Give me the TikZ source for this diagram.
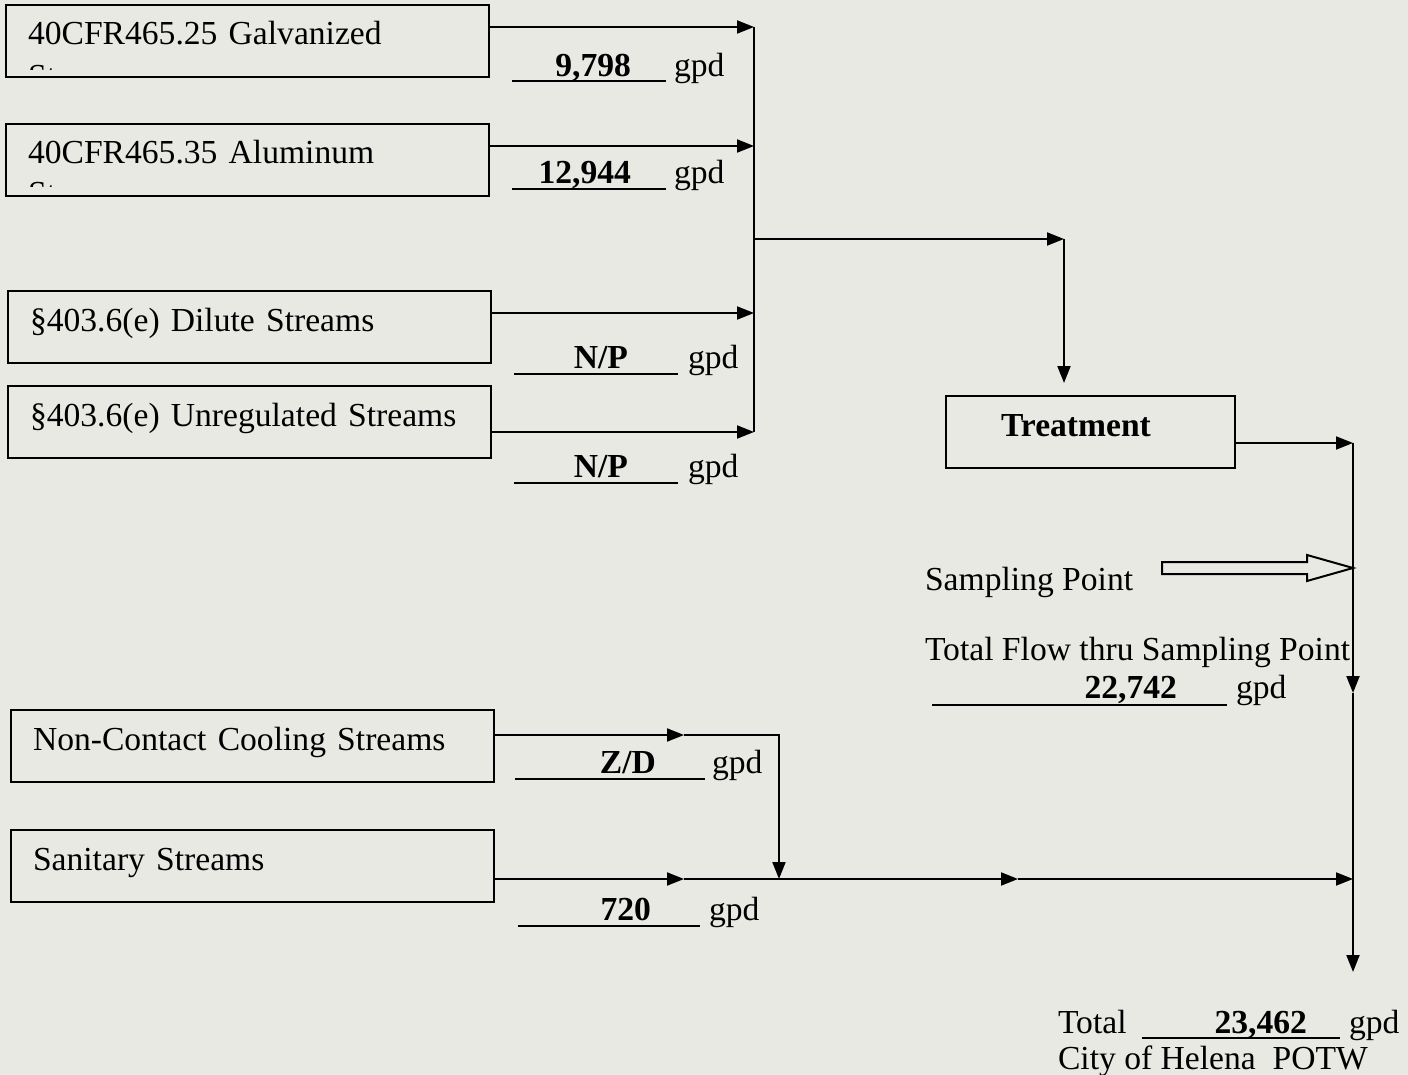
\documentclass[tikz,border=0pt]{standalone}
\usepackage{fontspec}
\setmainfont{Liberation Serif}
\usepackage{xcolor}
\usepackage{tikz}
\usetikzlibrary{arrows.meta,calc}
\definecolor{paper}{RGB}{233,233,228}

\begin{document}
\begin{tikzpicture}[x=0.5pt,y=-0.5pt,line width=1pt,
  every node/.style={font=\fontsize{16.8}{20}\selectfont,inner sep=0pt},
  srcbox/.style={draw,anchor=north west,text width=219.5pt,align=left,inner xsep=11pt,inner ysep=0pt,text height=20pt,text depth=16pt},
  flow/.style={-{Triangle[length=8.5pt,width=6.5pt]}},
  qty/.style={anchor=base east,font=\fontsize{16.8}{20}\selectfont\bfseries},
  unit/.style={anchor=base west}]
  \fill[paper] (0,0) rectangle (1408,1075);
  \useasboundingbox (0,0) rectangle (1408,1075);

  \node[srcbox] (galv) at (5,4) {40CFR465.25 Galvanized};
  \node[srcbox] (alum) at (5,123) {40CFR465.35 Aluminum};
  \node[srcbox] (dil) at (7,290) {§403.6(e) Dilute Streams};
  \node[srcbox] (unreg) at (7,385) {§403.6(e) Unregulated Streams};
  \node[srcbox] (ncc) at (10,709) {Non-Contact Cooling Streams};
  \node[srcbox] (san) at (10,829) {Sanitary Streams};
  \node[srcbox,inner xsep=27.5pt,text width=89.5pt,font=\fontsize{16.8}{20}\selectfont\bfseries] (treat) at (945,395) {Treatment};

  % second lines cut off by the boxes
  \begin{scope}
    \clip (galv.north west) rectangle ($(galv.north east)+(0,66)$);
    \node[anchor=base west] (galv2) at ($(galv.north west)+(22,84)$) {Streams};
  \end{scope}
  \begin{scope}
    \clip (alum.north west) rectangle ($(alum.north east)+(0,64)$);
    \node[anchor=base west] (alum2) at ($(alum.north west)+(22,82)$) {Streams};
  \end{scope}

  \coordinate (b1) at (754,27);
  \coordinate (b2) at (754,146);
  \coordinate (bt) at (754,239);
  \coordinate (b3) at (754,313);
  \coordinate (b4) at (754,432);
  \coordinate (tin) at (1064,239);
  \draw[flow] (galv.east |- b1) -- (b1);
  \draw[flow] (alum.east |- b2) -- (b2);
  \draw[flow] (dil.east |- b3) -- (b3);
  \draw[flow] (unreg.east |- b4) -- (b4);
  \draw (b1) -- (b4);
  \draw[flow] (bt) -- (tin);
  \draw[flow,shorten >=6pt] (tin) -- (tin |- treat.north);

  \coordinate (r1) at (1353,443);
  \coordinate (rs) at (1353,568);
  \coordinate (rm) at (1353,693);
  \coordinate (r2) at (1353,879);
  \coordinate (potw) at (1353,972);
  \draw[flow] (treat.east |- r1) -- (r1);
  \draw[flow] (r1) -- (rm);
  \draw[flow] (rm) -- (potw);

  \coordinate (n1) at (684,735);
  \coordinate (nj) at (779,735);
  \coordinate (s1) at (684,879);
  \coordinate (sj) at (779,879);
  \coordinate (s2) at (1018,879);
  \draw[flow] (ncc.east |- n1) -- (n1);
  \draw[flow] (n1) -- (nj) -- (sj);
  \draw[flow] (san.east |- s1) -- (s1);
  \draw[flow] (s1) -- (s2);
  \draw[flow] (s2) -- (r2);

  \draw[fill=paper] (1162,562) -- (1307,562) -- (1307,555) -- (rs) -- (1307,581) -- (1307,574) -- (1162,574) -- cycle;
  \node[anchor=base west] (samplbl) at (924,590) {Sampling Point};
  \node[anchor=base west] (flowlbl) at (924,660) {Total Flow thru Sampling Point};

  \draw (512,81) -- (666,81);
  \node[qty] (q-galv) at (632,77) {9,798};
  \node[unit] (u-galv) at (673,77) {gpd};
  \draw (512,189) -- (666,189);
  \node[qty] (q-alum) at (632,184) {12,944};
  \node[unit] (u-alum) at (673,184) {gpd};
  \draw (514,374) -- (678,374);
  \node[qty] (q-dil) at (629,368) {N/P};
  \node[unit] (u-dil) at (687,368) {gpd};
  \draw (514,483) -- (678,483);
  \node[qty] (q-unreg) at (629,477) {N/P};
  \node[unit] (u-unreg) at (687,477) {gpd};
  \draw (932,705) -- (1227,705);
  \node[qty] (q-samp) at (1178,698) {22,742};
  \node[unit] (u-samp) at (1235,698) {gpd};
  \draw (515,779) -- (705,779);
  \node[qty] (q-ncc) at (657,773) {Z/D};
  \node[unit] (u-ncc) at (711,773) {gpd};
  \draw (518,926) -- (700,926);
  \node[qty] (q-san) at (652,920) {720};
  \node[unit] (u-san) at (708,920) {gpd};
  \node[anchor=base west] (totlbl) at (1057,1033) {Total};
  \draw (1142,1038) -- (1340,1038);
  \node[qty] (q-tot) at (1308,1033) {23,462};
  \node[unit] (u-tot) at (1348,1033) {gpd};
  \node[anchor=base west] (potwlbl) at (1057,1069) {City of Helena~ POTW};
\end{tikzpicture}
\end{document}
